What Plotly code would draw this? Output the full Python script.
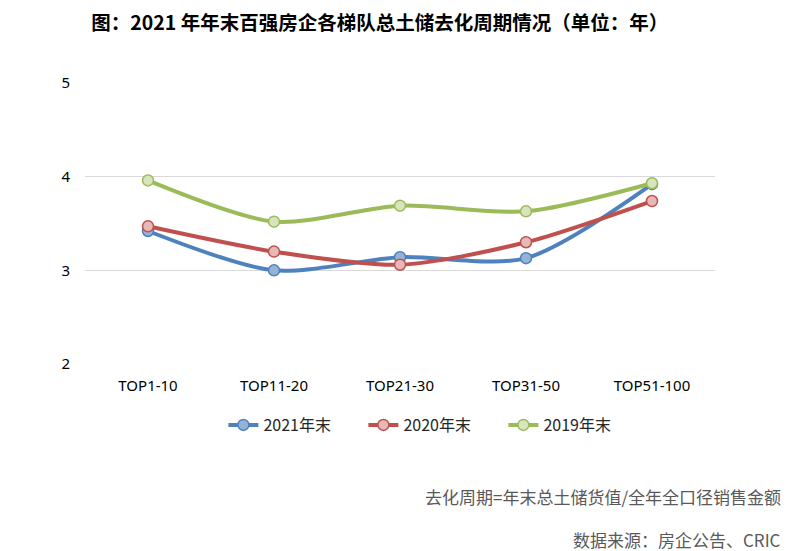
import plotly.graph_objects as go

categories = ['TOP1-10', 'TOP11-20', 'TOP21-30', 'TOP31-50', 'TOP51-100']
y2021 = [3.42, 3.00, 3.14, 3.13, 3.92]
y2020 = [3.47, 3.20, 3.06, 3.30, 3.74]
y2019 = [3.96, 3.52, 3.69, 3.63, 3.93]
y_ticks = [2, 3, 4, 5]

series = [
    ('2021年末', y2021, '#4f81bd', '#95b3d7'),
    ('2020年末', y2020, '#c0504d', '#e6b9b8'),
    ('2019年末', y2019, '#9bbb59', '#d7e4bd'),
]

fig = go.Figure()
for name, vals, line_color, fill in series:
    fig.add_trace(go.Scatter(
        x=categories, y=vals, name=name, mode='lines+markers',
        line=dict(color=line_color, width=4, shape='spline', smoothing=0.8),
        marker=dict(size=11, color=fill, line=dict(color=line_color, width=1.5)),
    ))

# page body has an 8px margin, so the figure is a bit smaller than the window
fig.update_layout(
    width=786, height=543,
    paper_bgcolor='white', plot_bgcolor='white',
    font=dict(family='Noto Sans CJK SC', size=13, color='#000000'),
    margin=dict(l=77, r=79, t=75, b=187),
    showlegend=True,
    legend=dict(orientation='h', x=0.553, y=-0.217, xanchor='center', yanchor='middle',
                font=dict(size=16, color='#262626'),
                entrywidth=95, entrywidthmode='pixels'),
    title=dict(text='<b>图：2021 年年末百强房企各梯队总土储去化周期情况（单位：年）</b>',
               x=0.473, xanchor='center', y=0.972, yanchor='middle',
               font=dict(size=19.5, color='#000000')),
)
fig.update_xaxes(showgrid=False, showline=False, ticks='', range=[-0.5, 4.5],
                 ticklabelstandoff=11,
                 tickfont=dict(size=15, color='#000000', family='Noto Sans'))
fig.update_yaxes(range=[2, 5], tickvals=y_ticks, showgrid=True, gridcolor='#d9d9d9',
                 gridwidth=1, zeroline=False, showline=False, ticks='',
                 ticklabelstandoff=14,
                 tickfont=dict(size=15, color='#000000', family='Noto Sans'))

fig.add_annotation(text='去化周期=年末总土储货值/全年全口径销售金额', xref='paper', yref='paper',
                   x=1.108, y=-0.47, xanchor='right', yanchor='middle', showarrow=False,
                   font=dict(size=17, color='#595959'))
fig.add_annotation(text='数据来源：房企公告、CRIC', xref='paper', yref='paper',
                   x=1.108, y=-0.626, xanchor='right', yanchor='middle', showarrow=False,
                   font=dict(size=17, color='#595959'))

fig.write_html('out.html')
